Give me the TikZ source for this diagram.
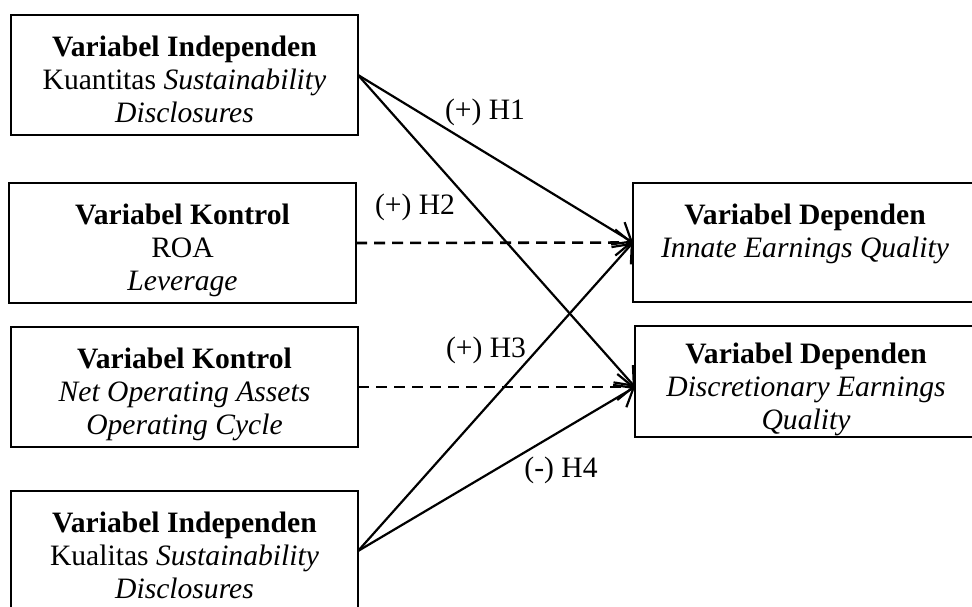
\documentclass[tikz,border=0pt]{standalone}
\usepackage{fontspec}
\setmainfont{Liberation Serif}
\usetikzlibrary{arrows.meta}
\newcommand\topstrut{\rule{0pt}{18pt}}
\newcommand\botstrut{\rule[-3.5pt]{0pt}{3.5pt}}

\begin{document}
\begin{tikzpicture}[y=0.5pt, x=0.5pt, yscale=-1, inner sep=0pt, outer sep=0pt,
  varbox/.style={draw=black, line width=0.9pt, align=center,
    font=\fontsize{14.8}{16.5}\selectfont},
  hyplabel/.style={font=\fontsize{14.8}{16.5}\selectfont},
  hyparrow/.style={draw=black, line width=1.1pt, line join=miter,
    -{Straight Barb[length=8pt, width=13pt, line width=1.1pt]}},
  ctrlarrow/.style={hyparrow, line width=1.3pt, dash pattern=on 5.5pt off 3.5pt}]
  \clip (0,0) rectangle (972,606);
  % left column
  \path (184.5,75.0) node[varbox, minimum width=173.5pt, minimum height=60pt]
    (rect1011) {\topstrut\textbf{Variabel Independen}\\Kuantitas \textit{Sustainability}\\\textit{Disclosures}\botstrut};
  \path (182.5,243.0) node[varbox, minimum width=173.5pt, minimum height=60pt]
    (rect1013) {\topstrut\textbf{Variabel Kontrol}\\ROA\\\textit{Leverage}\botstrut};
  \path (184.5,387.0) node[varbox, minimum width=173.5pt, minimum height=60pt]
    (rect1015) {\topstrut\textbf{Variabel Kontrol}\\\textit{Net Operating Assets}\\\textit{Operating Cycle}\botstrut};
  \path (184.5,551.0) node[varbox, minimum width=173.5pt, minimum height=60pt]
    (rect1017) {\topstrut\textbf{Variabel Independen}\\Kualitas \textit{Sustainability}\\\textit{Disclosures}\botstrut};
  % right column
  \path (805.0,242.5) node[varbox, minimum width=172pt, minimum height=59.5pt]
    (rect1021) {\topstrut\textbf{Variabel Dependen}\\\textit{Innate Earnings Quality}\\\botstrut};
  \path (806.0,381.5) node[varbox, minimum width=171pt, minimum height=55.5pt]
    (rect1023) {\topstrut\textbf{Variabel Dependen}\\\textit{Discretionary Earnings}\\\textit{Quality}\botstrut};
  % connectors
  \path[hyparrow] (rect1011.east) -- (rect1021.west);
  \path[hyparrow] (rect1011.east) -- ([yshift=2.75pt]rect1023.west);
  \path[ctrlarrow] (rect1013.east) -- (rect1021.west);
  \path[ctrlarrow] (rect1015.east) -- ([yshift=2.75pt]rect1023.west);
  \path[hyparrow] (rect1017.east) -- (rect1021.west);
  \path[hyparrow] (rect1017.east) -- ([yshift=2.75pt]rect1023.west);
  % labels
  \path (485.0,112.0) node[hyplabel] (text1031) {(+) H1};
  \path (415.0,207.0) node[hyplabel] (text1033) {(+) H2};
  \path (486.0,350.0) node[hyplabel] (text1035) {(+) H3};
  \path (561.0,470.0) node[hyplabel] (text1037) {(-) H4};
\end{tikzpicture}
\end{document}
